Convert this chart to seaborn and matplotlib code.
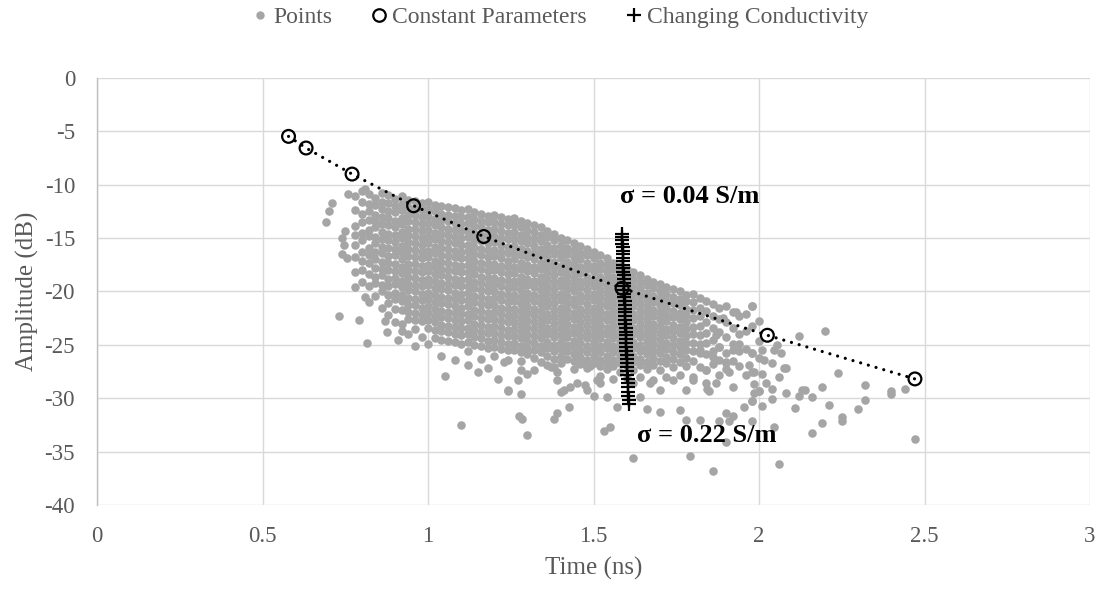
import pandas as pd
import seaborn as sns
import matplotlib.pyplot as plt
from matplotlib.lines import Line2D

# ---- data ----
# gray cloud, written as thin time columns (ns) with the amplitudes (dB) seen in each
col_x = [0.78, 0.80, 0.82, 0.84, 0.86, 0.88, 0.90, 0.92, 0.94, 0.96, 0.98,
         1.00, 1.02, 1.04, 1.06, 1.08, 1.10, 1.12, 1.14, 1.16, 1.18,
         1.20, 1.22, 1.24, 1.26, 1.28, 1.30, 1.32, 1.34, 1.36, 1.38,
         1.40, 1.42, 1.44, 1.46, 1.48, 1.50, 1.52, 1.54, 1.56, 1.58,
         1.60, 1.62, 1.64, 1.66, 1.68, 1.70, 1.72, 1.74, 1.76, 1.78,
         1.80, 1.82, 1.84, 1.86, 1.88, 1.90, 1.92, 1.94, 1.96, 1.98, 2.00]
col_y = [
    [-11.1, -12.4, -13.9, -14.7, -15.6, -16.8, -18.2, -19.6],
    [-10.6, -11.6, -12.7, -13.5, -14.5, -15.2, -16.3, -17.1, -18.0, -19.1],
    [-10.9, -11.8, -12.5, -13.3, -14.2, -14.8, -15.9, -16.6, -17.3, -18.4, -19.5, -21.0],
    [-11.2, -11.9, -12.8, -13.4, -14.0, -14.9, -15.5, -16.3, -17.0, -17.8, -18.6, -19.2, -20.4],
    [-10.8, -11.6, -12.3, -13.0, -13.7, -14.4, -15.1, -15.8, -16.4, -17.2, -17.9, -18.5, -19.4, -20.0, -21.5],
    [-11.0, -11.7, -12.5, -13.1, -13.8, -14.6, -15.2, -15.9, -16.7, -17.3, -18.0, -18.8, -19.5, -20.3, -21.1, -22.2],
    [-11.3, -12.0, -12.6, -13.4, -14.0, -14.7, -15.4, -16.0, -16.6, -17.4, -18.1, -18.7, -19.3, -20.1, -20.7, -21.6, -22.9],
    [-11.1, -11.8, -12.4, -13.1, -13.7, -14.4, -15.0, -15.7, -16.3, -17.0, -17.7, -18.3, -19.0, -19.6, -20.3, -20.9, -21.7, -23.0],
    [-11.4, -12.1, -12.8, -13.4, -14.1, -14.7, -15.4, -16.0, -16.7, -17.4, -18.0, -18.6, -19.3, -19.9, -20.6, -21.3, -21.9, -22.6, -24.0],
    [-11.5, -12.2, -12.8, -13.5, -14.1, -14.8, -15.5, -16.1, -16.8, -17.4, -18.1, -18.7, -19.4, -20.0, -20.7, -21.3, -22.0, -22.7, -23.5],
    [-11.7, -12.4, -13.0, -13.7, -14.3, -15.0, -15.6, -16.3, -16.9, -17.6, -18.2, -18.9, -19.5, -20.2, -20.8, -21.5, -22.2, -22.8, -24.3],
    [-11.6, -12.3, -12.9, -13.6, -14.2, -14.9, -15.5, -16.2, -16.8, -17.5, -18.1, -18.8, -19.4, -20.1, -20.7, -21.4, -22.0, -22.7, -23.4, -24.9],
    [-11.9, -12.5, -13.2, -13.8, -14.5, -15.1, -15.8, -16.4, -17.1, -17.7, -18.4, -19.0, -19.7, -20.3, -21.0, -21.6, -22.3, -22.9, -23.6, -24.4],
    [-12.0, -12.7, -13.3, -14.0, -14.6, -15.3, -15.9, -16.6, -17.2, -17.9, -18.5, -19.2, -19.8, -20.5, -21.1, -21.8, -22.4, -23.1, -23.7, -24.5, -26.0],
    [-12.1, -12.8, -13.4, -14.1, -14.7, -15.4, -16.0, -16.7, -17.3, -18.0, -18.6, -19.3, -19.9, -20.6, -21.2, -21.9, -22.5, -23.2, -23.8, -24.6],
    [-12.2, -12.9, -13.6, -14.2, -14.9, -15.5, -16.2, -16.8, -17.5, -18.1, -18.8, -19.4, -20.1, -20.7, -21.4, -22.0, -22.7, -23.3, -24.0, -24.7, -26.4],
    [-12.4, -13.0, -13.7, -14.3, -15.0, -15.6, -16.3, -16.9, -17.6, -18.2, -18.9, -19.5, -20.2, -20.8, -21.5, -22.1, -22.8, -23.4, -24.1, -24.9],
    [-12.3, -13.0, -13.6, -14.3, -14.9, -15.6, -16.2, -16.9, -17.5, -18.2, -18.8, -19.5, -20.1, -20.8, -21.4, -22.1, -22.7, -23.4, -24.0, -24.7, -25.6],
    [-12.6, -13.2, -13.9, -14.5, -15.2, -15.8, -16.5, -17.1, -17.8, -18.4, -19.1, -19.7, -20.4, -21.0, -21.7, -22.3, -23.0, -23.6, -24.3, -25.0],
    [-12.7, -13.4, -14.0, -14.7, -15.3, -16.0, -16.6, -17.3, -17.9, -18.6, -19.2, -19.9, -20.5, -21.2, -21.8, -22.5, -23.1, -23.8, -24.4, -25.1, -26.3],
    [-12.9, -13.5, -14.2, -14.8, -15.5, -16.1, -16.8, -17.4, -18.1, -18.7, -19.4, -20.0, -20.7, -21.3, -22.0, -22.6, -23.3, -23.9, -24.6, -25.3],
    [-12.8, -13.5, -14.1, -14.8, -15.4, -16.1, -16.7, -17.4, -18.0, -18.7, -19.3, -20.0, -20.6, -21.3, -21.9, -22.6, -23.2, -23.9, -24.5, -25.2, -26.0],
    [-13.0, -13.7, -14.3, -15.0, -15.6, -16.3, -16.9, -17.6, -18.2, -18.9, -19.5, -20.2, -20.8, -21.5, -22.1, -22.8, -23.4, -24.1, -24.7, -25.4],
    [-13.2, -13.8, -14.5, -15.1, -15.8, -16.4, -17.1, -17.7, -18.4, -19.0, -19.7, -20.3, -21.0, -21.6, -22.3, -22.9, -23.6, -24.2, -24.9, -25.5, -26.4],
    [-13.1, -13.8, -14.4, -15.1, -15.7, -16.4, -17.0, -17.7, -18.3, -19.0, -19.6, -20.3, -20.9, -21.6, -22.2, -22.9, -23.5, -24.2, -24.8, -25.5],
    [-13.4, -14.0, -14.7, -15.3, -16.0, -16.6, -17.3, -17.9, -18.6, -19.2, -19.9, -20.5, -21.2, -21.8, -22.5, -23.1, -23.8, -24.4, -25.1, -25.7, -26.5],
    [-13.6, -14.2, -14.9, -15.5, -16.2, -16.8, -17.5, -18.1, -18.8, -19.4, -20.1, -20.7, -21.4, -22.0, -22.7, -23.3, -24.0, -24.6, -25.3, -25.9],
    [-13.8, -14.4, -15.1, -15.7, -16.4, -17.0, -17.7, -18.3, -19.0, -19.6, -20.3, -20.9, -21.6, -22.2, -22.9, -23.5, -24.2, -24.8, -25.5, -26.2],
    [-14.0, -14.7, -15.3, -16.0, -16.6, -17.3, -17.9, -18.6, -19.2, -19.9, -20.5, -21.2, -21.8, -22.5, -23.1, -23.8, -24.4, -25.1, -25.7, -26.6],
    [-14.3, -14.9, -15.6, -16.2, -16.9, -17.5, -18.2, -18.8, -19.5, -20.1, -20.8, -21.4, -22.1, -22.7, -23.4, -24.0, -24.7, -25.3, -26.0],
    [-14.6, -15.2, -15.9, -16.5, -17.2, -17.8, -18.5, -19.1, -19.8, -20.4, -21.1, -21.7, -22.4, -23.0, -23.7, -24.3, -25.0, -25.6, -26.3, -27.1],
    [-15.0, -15.6, -16.3, -16.9, -17.6, -18.2, -18.9, -19.5, -20.2, -20.8, -21.5, -22.1, -22.8, -23.4, -24.1, -24.7, -25.4, -26.0, -26.7],
    [-15.2, -15.9, -16.5, -17.2, -17.8, -18.5, -19.1, -19.8, -20.4, -21.1, -21.7, -22.4, -23.0, -23.7, -24.3, -25.0, -25.6, -26.3],
    [-15.5, -16.1, -16.8, -17.4, -18.1, -18.7, -19.4, -20.0, -20.7, -21.3, -22.0, -22.6, -23.3, -23.9, -24.6, -25.2, -25.9, -26.5, -27.3],
    [-15.7, -16.4, -17.0, -17.7, -18.3, -19.0, -19.6, -20.3, -20.9, -21.6, -22.2, -22.9, -23.5, -24.2, -24.8, -25.5, -26.1, -26.8],
    [-16.0, -16.6, -17.3, -17.9, -18.6, -19.2, -19.9, -20.5, -21.2, -21.8, -22.5, -23.1, -23.8, -24.4, -25.1, -25.7, -26.4, -27.2],
    [-16.3, -16.9, -17.6, -18.2, -18.9, -19.5, -20.2, -20.8, -21.5, -22.1, -22.8, -23.4, -24.1, -24.7, -25.4, -26.0, -26.7],
    [-16.6, -17.3, -17.9, -18.6, -19.2, -19.9, -20.5, -21.2, -21.8, -22.5, -23.1, -23.8, -24.4, -25.1, -25.7, -26.4, -27.0, -27.9],
    [-16.9, -17.5, -18.2, -18.8, -19.5, -20.1, -20.8, -21.4, -22.1, -22.7, -23.4, -24.0, -24.7, -25.3, -26.0, -26.6, -27.3],
    [-17.3, -17.9, -18.6, -19.2, -19.9, -20.5, -21.2, -21.8, -22.5, -23.1, -23.8, -24.4, -25.1, -25.7, -26.4, -27.0, -28.2],
    [-17.6, -18.2, -18.9, -19.5, -20.2, -20.8, -21.5, -22.1, -22.8, -23.4, -24.1, -24.7, -25.4, -26.0, -26.7, -27.5],
    [-17.9, -18.5, -19.2, -19.8, -20.5, -21.1, -21.8, -22.4, -23.1, -23.7, -24.4, -25.0, -25.7, -26.3, -27.0, -28.1],
    [-18.2, -18.8, -19.5, -20.1, -20.8, -21.4, -22.1, -22.7, -23.4, -24.0, -24.7, -25.3, -26.0, -26.6, -27.4],
    [-18.5, -19.1, -19.8, -20.4, -21.1, -21.7, -22.4, -23.0, -23.7, -24.3, -25.0, -25.6, -26.3, -26.9, -28.0],
    [-18.8, -19.4, -20.1, -20.7, -21.4, -22.0, -22.7, -23.3, -24.0, -24.6, -25.3, -25.9, -26.6, -27.3],
    [-19.1, -19.7, -20.4, -21.0, -21.7, -22.3, -23.0, -23.6, -24.3, -24.9, -25.6, -26.2, -26.9, -28.3],
    [-19.3, -20.0, -20.6, -21.3, -21.9, -22.6, -23.2, -23.9, -24.5, -25.2, -25.8, -26.5, -27.4],
    [-19.6, -20.2, -20.9, -21.5, -22.2, -22.8, -23.5, -24.1, -24.8, -25.4, -26.1, -26.7, -28.0],
    [-19.8, -20.5, -21.1, -21.8, -22.4, -23.1, -23.7, -24.4, -25.0, -25.7, -26.3, -27.1],
    [-20.0, -20.7, -21.3, -22.0, -22.6, -23.3, -23.9, -24.6, -25.2, -25.9, -26.6, -27.8],
    [-20.3, -20.9, -21.6, -22.2, -22.9, -23.5, -24.2, -24.8, -25.5, -26.2, -27.0],
    [-20.2, -21.0, -21.7, -22.5, -23.3, -24.0, -24.8, -25.6, -26.5, -28.3],
    [-20.6, -21.5, -22.3, -23.2, -24.1, -24.9, -25.8, -27.1],
    [-20.9, -21.8, -22.9, -23.9, -24.8, -25.9, -27.4, -28.6],
    [-21.2, -22.3, -23.4, -24.5, -25.6, -26.8],
    [-21.5, -22.6, -23.8, -25.2, -26.4, -27.8],
    [-21.4, -22.9, -24.3, -25.8, -27.3],
    [-21.9, -23.4, -24.9, -26.5, -28.9],
    [-22.3, -24.0, -25.6, -27.0],
    [-22.1, -23.7, -25.4, -27.8],
    [-21.4, -23.2, -25.8, -27.5, -30.3],
    [-22.8, -24.6, -26.2, -29.3],
]

# scattered points outside the dense band
extra_x = [0.69, 0.70, 0.71, 0.73, 0.74, 0.745, 0.74, 0.75, 0.755, 0.757, 0.79, 0.81, 0.81, 0.816,
           0.87, 0.875, 0.92, 0.91, 0.96, 1.05, 1.10, 1.12, 1.15, 1.18, 1.21, 1.24, 1.28, 1.27,
           1.275, 1.285, 1.30, 1.30, 1.39, 1.38, 1.425, 1.40, 1.43, 1.475, 1.50, 1.51, 1.39, 1.36,
           1.23, 1.28, 1.47, 1.45, 1.49, 1.55, 1.53, 1.57, 1.62, 1.66, 1.70, 1.76, 1.78, 1.79,
           1.82, 1.85, 1.92, 1.955, 1.97, 1.985, 2.00, 2.04, 2.045, 2.06, 2.11, 2.08, 2.045, 2.01,
           2.055, 1.93, 1.98, 2.12, 2.20, 2.32, 2.32, 2.30, 2.19, 2.14, 2.12, 2.21, 2.16, 2.065,
           2.075, 2.06, 2.04, 2.015, 2.01, 2.02, 2.04, 2.08, 1.985, 1.98, 1.985, 1.94, 1.98, 1.91,
           1.90, 1.88, 1.87, 1.89, 2.16, 2.19, 2.25, 2.25, 2.40, 2.40, 2.47, 1.86, 1.98, 2.01,
           1.90, 1.91, 1.90, 1.88, 1.843, 1.24, 1.32, 1.37, 1.39, 1.41, 1.45, 1.48, 1.52, 1.54,
           1.62, 1.64, 1.67, 1.70, 1.74, 1.78, 1.80, 1.84, 1.87, 1.90, 1.92, 1.86, 1.82, 2.24,
           2.13, 2.44]
extra_y = [-13.5, -12.5, -11.75, -22.3, -15.0, -15.6, -16.5, -14.3, -16.9, -10.85, -22.7, -10.4, -20.5, -24.8,
           -22.8, -23.8, -23.7, -24.5, -25.1, -27.9, -32.5, -26.9, -27.5, -27.2, -28.2, -29.3, -29.6, -28.3,
           -31.7, -31.9, -33.4, -27.7, -31.4, -31.9, -30.8, -29.4, -28.9, -28.8, -29.8, -28.3, -27.5, -26.9,
           -26.6, -27.4, -26.7, -26.5, -27.0, -32.7, -33.1, -30.8, -35.6, -31.0, -31.3, -31.1, -32.0, -35.4,
           -32.0, -29.3, -31.7, -30.8, -26.9, -28.7, -29.3, -30.1, -32.7, -36.2, -30.9, -27.2, -25.5, -25.5,
           -25.0, -21.9, -21.4, -24.2, -23.7, -28.8, -30.2, -31.0, -28.9, -29.2, -29.8, -30.6, -29.9, -25.8,
           -27.2, -28.0, -26.7, -26.4, -27.7, -28.6, -29.1, -29.5, -29.5, -30.3, -27.5, -24.9, -25.8, -27.5,
           -26.6, -25.2, -24.1, -22.5, -33.3, -32.3, -32.1, -31.8, -29.3, -29.6, -33.8, -36.8, -32.1, -30.7,
           -34.1, -32.1, -31.4, -32.1, -29.1, -29.2, -27.4, -27.1, -28.3, -29.2, -28.6, -29.2, -28.6, -29.9,
           -28.6, -29.9, -28.6, -29.2, -28.3, -29.2, -28.0, -27.4, -28.6, -26.7, -25.5, -26.1, -25.5, -27.6,
           -29.2, -29.1]

# constant parameters (open circles + dotted line)
const_x = [0.578, 0.631, 0.770, 0.956, 1.168, 1.586, 2.025, 2.471]
const_y = [-5.47, -6.56, -9.00, -11.97, -14.85, -19.70, -24.10, -28.19]

# changing conductivity (plus marks, sigma 0.04 -> 0.22 S/m)
cond_x = [1.586, 1.586, 1.587, 1.587, 1.588, 1.588, 1.588, 1.589, 1.589, 1.590, 1.590, 1.590,
          1.591, 1.591, 1.592, 1.592, 1.592, 1.593, 1.593, 1.594, 1.594, 1.594, 1.595, 1.595,
          1.596, 1.596, 1.597, 1.597, 1.597, 1.598, 1.598, 1.599, 1.599, 1.600, 1.600, 1.601,
          1.601, 1.602, 1.602, 1.603, 1.603, 1.604, 1.605, 1.605, 1.606, 1.607]
cond_y = [-14.60, -14.91, -15.22, -15.54, -15.86, -16.18, -16.50, -16.83, -17.16, -17.49, -17.82,
          -18.15, -18.49, -18.83, -19.17, -19.51, -19.85, -20.20, -20.55, -20.90, -21.25, -21.60,
          -21.95, -22.31, -22.67, -23.03, -23.39, -23.75, -24.11, -24.48, -24.85, -25.22, -25.59,
          -25.96, -26.33, -26.71, -27.09, -27.47, -27.85, -28.23, -28.61, -28.99, -29.37, -29.75,
          -30.13, -30.51]

x_ticks = [0, 0.5, 1, 1.5, 2, 2.5, 3]
x_labels = ["0", "0.5", "1", "1.5", "2", "2.5", "3"]
y_ticks = [0, -5, -10, -15, -20, -25, -30, -35, -40]

# ---- build table ----
pts_x = [x for x, ys in zip(col_x, col_y) for _ in ys] + extra_x
pts_y = [y for ys in col_y for y in ys] + extra_y
pts = pd.DataFrame({"time": pts_x, "amp": pts_y})

sns.set_theme(style="white")
plt.rcParams["font.family"] = ["Liberation Serif", "DejaVu Serif"]
plt.rcParams["axes.unicode_minus"] = False

fig, ax = plt.subplots(figsize=(10.99, 5.89), dpi=100)
fig.subplots_adjust(left=0.0885, right=0.9918, bottom=0.1426, top=0.8676)

gray = "#a5a5a5"
txt = "#595959"

sns.scatterplot(data=pts, x="time", y="amp", color=gray, s=38, linewidth=0, ax=ax, zorder=2)
sns.lineplot(x=const_x, y=const_y, sort=False, estimator=None, color="black", lw=2.3,
             linestyle=(0, (0.01, 2.5)), dash_capstyle="round", ax=ax, zorder=3)
sns.scatterplot(x=const_x, y=const_y, marker="o", s=85, facecolor="none", edgecolor="black",
                linewidth=1.6, ax=ax, zorder=4)
sns.scatterplot(x=cond_x, y=cond_y, marker="+", s=110, color="black", linewidth=1.6, ax=ax, zorder=5)

ax.text(1.789, -11.1, "σ = 0.04 S/m", ha="center", va="center", fontsize=19, fontweight="bold", color="black")
ax.text(1.843, -33.5, "σ = 0.22 S/m", ha="center", va="center", fontsize=19, fontweight="bold", color="black")

ax.set_xlim(0, 3)
ax.set_ylim(-40, 0)
ax.set_xticks(x_ticks)
ax.set_xticklabels(x_labels)
ax.set_yticks(y_ticks)
ax.set_yticklabels([str(v) for v in y_ticks])
ax.tick_params(length=0, labelsize=16.5, labelcolor=txt)
ax.tick_params(axis="x", pad=15)
ax.tick_params(axis="y", pad=16)
ax.set_xlabel("Time (ns)", fontsize=18, color=txt, labelpad=7)
ax.set_ylabel("Amplitude (dB)", fontsize=18, color=txt, labelpad=4)

ax.grid(True, color="#d9d9d9", lw=1.0)
ax.set_axisbelow(True)
for side in ["top", "right", "bottom"]:
    ax.spines[side].set_visible(False)
ax.spines["left"].set_color("#bfbfbf")
ax.spines["left"].set_linewidth(1.0)

handles = [
    Line2D([], [], ls="", marker="o", color=gray, markersize=5),
    Line2D([], [], ls="", marker="o", markerfacecolor="none", markeredgecolor="black", markersize=9, markeredgewidth=1.6),
    Line2D([], [], ls="", marker="+", color="black", markersize=10, markeredgewidth=1.6),
]
fig.legend(handles, ["Points", "Constant Parameters", "Changing Conductivity"], loc="center",
           bbox_to_anchor=(0.508, 0.971), ncol=3, frameon=False, fontsize=17, labelcolor=txt,
           handletextpad=0.05, columnspacing=1.5, handlelength=1.0)

fig.savefig("out.png", dpi=100)
